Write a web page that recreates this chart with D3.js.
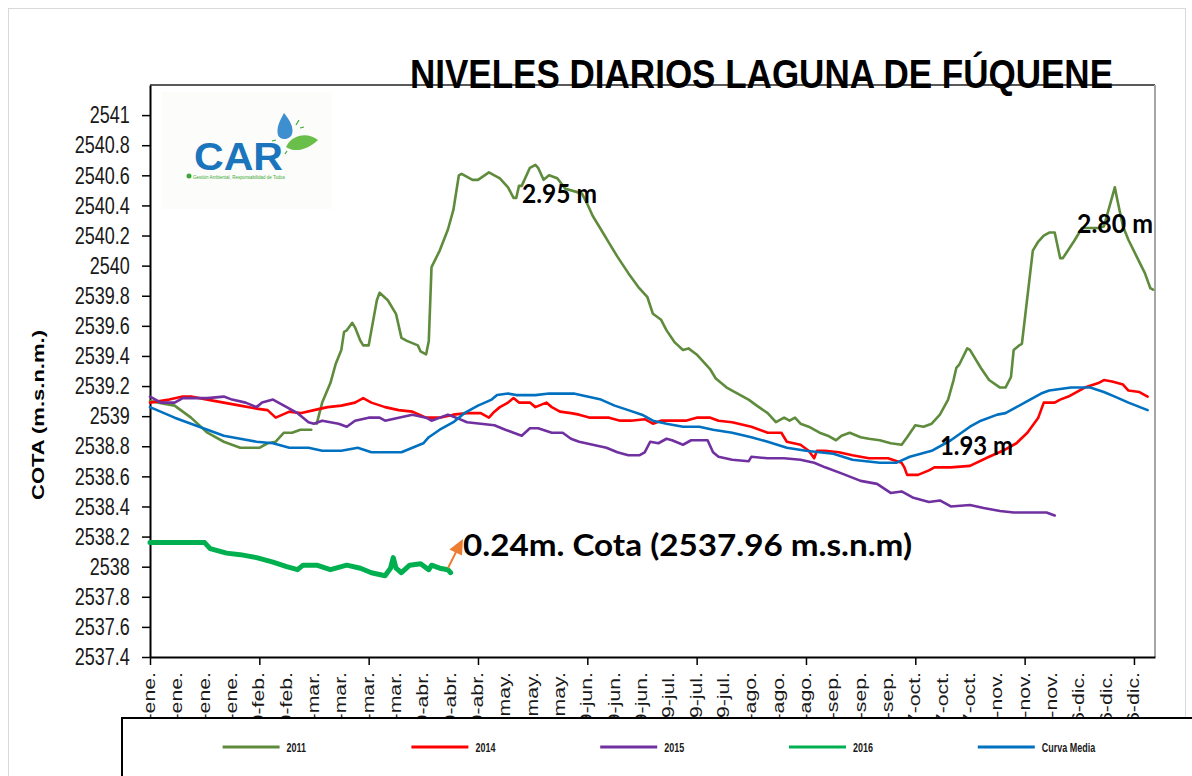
<!DOCTYPE html>
<html>
<head>
<meta charset="utf-8">
<script src="https://cdn.jsdelivr.net/npm/d3@7"></script>
<style>
	body { margin: 0; background: #fff; }
	svg { font-family: "Liberation Sans", Arial, sans-serif; }
</style>
</head>
<body>
<div id="graph"></div>
<script>
/* ====== DATOS (día del año, cota m.s.n.m.) ====== */

var dias2011 = [0,9,15,21,27,33,40,43,46,49,52,55,59,60,
	61,63,66,68,70,71,72,74,75,77, 78,80,81,83,84,87,90,92,94,98,
	99,101,102,103,106,109,111,113,114,118, 120,124,128,131,133,134,135,136,139,141,
	142,144,146,149,152,156,158,160,162,165, 168,171,175,179,182,184,187,189,192,195,
	197,200,202,205,207,211,215,219,222,226, 229,232,234,236,238,241,245,248,251,253,
	256,260,263,267,271,275,277,280,283,286, 289,292,294,295,296,299,300,304,307,311,
	313,315,316,318,319,323,325,327,329,331, 333,334,338,341,347,349,353,354,356,358,
	361,364,366,367];
var cota2011 = [2539.10,2539.07,2538.99,2538.89,2538.83,2538.79,2538.79,2538.82,2538.83,2538.89,2538.89,2538.91,2538.91,null,
	2538.95,2539.09,2539.22,2539.35,2539.44,2539.56,2539.57,2539.62,2539.59,2539.50,
	2539.47,2539.47,2539.57,2539.77,2539.82,2539.77,2539.68,2539.52,2539.50,2539.47,
	2539.43,2539.41,2539.50,2539.99,2540.10,2540.24,2540.37,2540.60,2540.61,2540.57,
	2540.57,2540.62,2540.58,2540.52,2540.45,2540.45,2540.53,2540.53,2540.65,2540.67,
	2540.65,2540.57,2540.60,2540.58,2540.51,2540.49,2540.48,2540.41,2540.33,2540.24,
	2540.15,2540.06,2539.95,2539.85,2539.79,2539.68,2539.64,2539.57,2539.49,2539.44,
	2539.45,2539.41,2539.37,2539.31,2539.25,2539.19,2539.15,2539.11,2539.07,2539.02,
	2538.96,2538.99,2538.97,2538.99,2538.95,2538.93,2538.89,2538.87,2538.84,2538.87,
	2538.89,2538.86,2538.85,2538.84,2538.82,2538.81,2538.86,2538.94,2538.93,2538.95,
	2539.01,2539.11,2539.24,2539.32,2539.34,2539.45,2539.44,2539.32,2539.24,2539.19,
	2539.19,2539.26,2539.44,2539.47,2539.48,2540.10,2540.16,2540.20,2540.22,2540.22,
	2540.05,2540.05,2540.16,2540.25,2540.25,2540.26,2540.52,2540.43,2540.26,2540.17,
	2540.06,2539.95,2539.85,2539.84];

var dias2014 = [0,7,12,15,21,27,33,39,43,46, 51,55,60,65,70,75,78,81,86,91,
	96,101,106,111,116,121,124,126,128,131, 133,135,139,141,145,147,150,154,157,161,
	165,168,172,176,181,184,187,191,196,200, 205,208,213,220,226,231,233,238,241,243,
	244,247,252,257,263,270,275,276,277,281, 285,287,293,300,307,312,317,321,325,327,
	331,333,336,340,342,347,349,352,356,358, 362,365];
var cota2014 = [2539.09,2539.11,2539.13,2539.13,2539.11,2539.09,2539.07,2539.05,2539.04,2538.99,
	2539.03,2539.02,2539.04,2539.06,2539.07,2539.09,2539.12,2539.09,2539.06,2539.04,
	2539.03,2538.99,2538.99,2539.01,2539.02,2539.02,2538.99,2539.03,2539.06,2539.09,
	2539.12,2539.09,2539.09,2539.06,2539.09,2539.06,2539.03,2539.02,2539.01,2538.99,
	2538.99,2538.99,2538.97,2538.97,2538.98,2538.95,2538.97,2538.97,2538.97,2538.99,
	2538.99,2538.97,2538.96,2538.93,2538.89,2538.89,2538.83,2538.81,2538.77,2538.72,
	2538.77,2538.77,2538.76,2538.74,2538.72,2538.72,2538.69,2538.66,2538.61,2538.61,
	2538.64,2538.66,2538.66,2538.67,2538.73,2538.77,2538.82,2538.89,2538.99,2539.09,
	2539.09,2539.11,2539.13,2539.17,2539.19,2539.22,2539.24,2539.23,2539.21,2539.17,
	2539.16,2539.13];

var dias2015 = [0,4,9,12,21,27,30,35,39,41, 45,50,54,58,60,63,69,72,75,80,
	84,86,91,96,101,103,109,112,116,121, 126,130,133,136,139,142,147,151,154,157,
	162,167,171,175,179,181,183,186,189,191, 195,198,204,206,208,213,219,220,226,232,
	238,243,247,253,260,266,271,275,279,285, 289,293,300,305,311,316,322,328,331];
var cota2015 = [2539.13,2539.09,2539.09,2539.12,2539.12,2539.13,2539.11,2539.09,2539.06,2539.09,
	2539.11,2539.06,2539.02,2538.96,2538.95,2538.97,2538.95,2538.93,2538.97,2538.99,
	2538.99,2538.97,2538.99,2539.01,2538.99,2538.97,2539.01,2538.99,2538.96,2538.95,
	2538.94,2538.91,2538.89,2538.87,2538.92,2538.92,2538.89,2538.89,2538.85,2538.83,
	2538.81,2538.79,2538.76,2538.74,2538.74,2538.76,2538.83,2538.82,2538.85,2538.84,
	2538.81,2538.84,2538.84,2538.76,2538.73,2538.71,2538.70,2538.73,2538.72,2538.72,
	2538.71,2538.69,2538.66,2538.62,2538.57,2538.55,2538.49,2538.50,2538.46,2538.43,
	2538.44,2538.40,2538.41,2538.39,2538.37,2538.36,2538.36,2538.36,2538.34];

var dias2016 = [0,9,15,20,22,28,33,39,45,50, 54,56,61,66,72,77,81,86,88,89,
	90,92,95,99,102,103,106,109,110];
var cota2016 = [2538.16,2538.16,2538.16,2538.16,2538.12,2538.09,2538.08,2538.06,2538.03,2538.00,
	2537.98,2538.01,2538.01,2537.98,2538.01,2537.99,2537.96,2537.94,2537.99,2538.06,
	2537.99,2537.96,2538.01,2538.02,2537.98,2538.01,2537.99,2537.98,2537.96];

var diasMedia = [0,9,15,21,27,33,39,45,51,58, 63,70,76,81,87,92,96,100,102,106,
	111,115,120,125,127,131,134,141,146,151, 155,160,165,170,175,180,184,189,195,201,
	206,213,220,226,233,240,250,257,267,273, 278,286,293,300,304,310,313,317,322,326,
	329,337,344,349,353,358,365];
var cotaMedia = [2539.06,2538.99,2538.95,2538.91,2538.87,2538.85,2538.83,2538.82,2538.79,2538.79,
	2538.77,2538.77,2538.79,2538.76,2538.76,2538.76,2538.79,2538.82,2538.86,2538.91,
	2538.96,2539.02,2539.07,2539.11,2539.14,2539.15,2539.14,2539.14,2539.15,2539.15,
	2539.15,2539.13,2539.11,2539.07,2539.04,2539.01,2538.97,2538.95,2538.93,2538.93,
	2538.91,2538.89,2538.86,2538.83,2538.79,2538.77,2538.75,2538.71,2538.69,2538.69,
	2538.73,2538.77,2538.84,2538.93,2538.97,2539.01,2539.02,2539.06,2539.11,2539.15,
	2539.17,2539.19,2539.19,2539.16,2539.13,2539.09,2539.04];

var serieNombres = ["2011", "2014", "2015", "2016", "Curva Media"];
var serieColores = ["#5e8b3c", "#ff0000", "#7030a0", "#00b050", "#0070c0"];

var yTicks = [2537.4,2537.6,2537.8,2538,2538.2,2538.4,2538.6,2538.8,2539,2539.2,
	2539.4,2539.6,2539.8,2540,2540.2,2540.4,2540.6,2540.8,2541];
var xMayores = [0,40,80,120,160,200,240,280,320,360];
var xLabelDias = [0,10,20,30,40,50,60,70,80,90,100,110,120,130,140,150,160,170,180,190,
	200,210,220,230,240,250,260,270,280,290,300,310,320,330,340,350,360];
var xLabels = ["1-ene.","11-ene.","21-ene.","31-ene.","10-feb.","20-feb.","1-mar.","11-mar.","21-mar.","31-mar.",
	"10-abr.","20-abr.","30-abr.","10-may.","20-may.","30-may.","9-jun.","19-jun.","29-jun.","9-jul.",
	"19-jul.","29-jul.","8-ago.","18-ago.","28-ago.","7-sep.","17-sep.","27-sep.","7-oct.","17-oct.",
	"27-oct.","6-nov.","16-nov.","26-nov.","6-dic.","16-dic.","26-dic."];

/* ====== SVG ====== */
var SVGwidth = 1192,
	SVGheight = 776,
	margin = {top: 85, right: 37, bottom: 119, left: 150},
	width = SVGwidth - margin.left - margin.right,
	height = SVGheight - margin.top - margin.bottom;

var svg = d3.select('#graph').append('svg')
	.attr('width', SVGwidth)
	.attr('height', SVGheight);

svg.append('rect')
	.attr('x', 8.5).attr('y', 8.5).attr('width', 1177).attr('height', 800)
	.attr('fill', '#fff').attr('stroke', '#d9d9d9');

var g = svg.append('g').attr('transform', 'translate(' + margin.left + ',' + margin.top + ')');

var x = d3.scaleLinear().domain([0, 367.7]).range([0, width]);
var y = d3.scaleLinear().domain([2537.4, 2541.2]).range([height, 0]);

// borde del área de trazado
g.append('line').attr('x1', 0).attr('x2', width).attr('y1', 0).attr('y2', 0)
	.attr('stroke', '#595959').attr('stroke-width', 2);
g.append('line').attr('x1', width).attr('x2', width).attr('y1', 0).attr('y2', height)
	.attr('stroke', '#a6a6a6').attr('stroke-width', 2);

// logo CAR
var logo = svg.append('g');
logo.append('rect').attr('x', 162).attr('y', 92).attr('width', 170).attr('height', 117).attr('fill', '#fcfcfa');
logo.append('text').attr('x', 194).attr('y', 170).attr('font-size', 39).attr('font-weight', 'bold')
	.attr('fill', '#1b75bc').attr('textLength', 89).attr('lengthAdjust', 'spacingAndGlyphs').text('CAR');
logo.append('circle').attr('cx', 189).attr('cy', 176).attr('r', 2.5).attr('fill', '#3aaa35');
logo.append('text').attr('x', 193).attr('y', 178.5).attr('font-size', 4.5).attr('fill', '#3aaa35')
	.attr('textLength', 92).attr('lengthAdjust', 'spacingAndGlyphs').text('Gestión Ambiental, Responsabilidad de Todos');
logo.append('path').attr('d', 'M284,113 C290,120 294,128 292,134 C290,140 280,141 278,135 C276,128 280,120 284,113 Z')
	.attr('fill', '#3d8fd0');
logo.append('path').attr('d', 'M286,147 C292,134 308,132 318,140 C308,150 294,153 286,147 Z')
	.attr('fill', '#6abf4b');
logo.append('path').attr('d', 'M272,141 l4,-1 M287,151 l-2,3 M296,125 l3,-5 M300,128 l4,-1')
	.attr('stroke', '#3aaa35').attr('stroke-width', 1.2);

// eje Y
var yAxis = d3.axisLeft(y)
	.tickValues(yTicks)
	.tickSize(8)
	.tickSizeOuter(0)
	.tickFormat(function(d){ return String(+d.toFixed(1)); });

var yG = g.append('g').call(yAxis);
yG.attr('font-family', null);
yG.select('.domain').attr('stroke', '#000').attr('stroke-width', 2);
yG.selectAll('.tick line').attr('stroke', '#000').attr('stroke-width', 1.5);
yG.selectAll('.tick text')
	.attr('font-size', 24)
	.attr('fill', '#1a1a1a')
	.attr('x', -27)
	.attr('transform', 'scale(0.75,1)');

// eje X
var xAxis = d3.axisBottom(x)
	.tickValues(xMayores)
	.tickSize(8)
	.tickSizeOuter(0)
	.tickFormat('');

var xG = g.append('g').attr('transform', 'translate(0,' + height + ')').call(xAxis);
xG.select('.domain').attr('stroke', '#000').attr('stroke-width', 2);
xG.selectAll('.tick line').attr('stroke', '#000').attr('stroke-width', 1.5);

g.selectAll('text.xlab')
	.data(xLabelDias)
	.enter()
	.append('text')
	.attr('class', 'xlab')
	.attr('transform', function(d){ return 'translate(' + (x(d) + 5) + ',' + (height + 15) + ') rotate(-90) scale(1.33,1)'; })
	.attr('text-anchor', 'end')
	.attr('font-size', 16)
	.attr('fill', '#1a1a1a')
	.text(function(d, i){ return xLabels[i]; });

// series
var line = d3.line()
	.defined(function(d){ return d.v != null; })
	.x(function(d){ return x(d.d); })
	.y(function(d){ return y(d.v); });

function puntos(dias, cotas){
	return dias.map(function(d, i){ return {d: d, v: cotas[i]}; });
}

var series = [
	{data: puntos(dias2011, cota2011), w: 2.6},
	{data: puntos(dias2014, cota2014), w: 2.6},
	{data: puntos(dias2015, cota2015), w: 2.6},
	{data: puntos(dias2016, cota2016), w: 5},
	{data: puntos(diasMedia, cotaMedia), w: 2.6}
];

series.forEach(function(s, i){
	g.append('path')
		.datum(s.data)
		.attr('fill', 'none')
		.attr('stroke', serieColores[i])
		.attr('stroke-width', s.w)
		.attr('stroke-linejoin', 'round')
		.attr('stroke-linecap', 'round')
		.attr('d', line);
});

// textos
function texto(txt, x0, y0, size, len, family){
	return svg.append('text')
		.attr('x', x0).attr('y', y0)
		.attr('font-size', size)
		.attr('font-weight', 'bold')
		.style('font-family', family)
		.attr('fill', '#000')
		.attr('textLength', len)
		.attr('lengthAdjust', 'spacingAndGlyphs')
		.text(txt);
}

texto('NIVELES DIARIOS LAGUNA DE FÚQUENE', 410, 88, 41, 703, '"Liberation Sans", Arial, sans-serif');
texto('2.95 m', 522, 203, 27, 75, 'Lato, "Open Sans", sans-serif');
texto('2.80 m', 1077, 233, 27, 76, 'Lato, "Open Sans", sans-serif');
texto('1.93 m', 940, 455, 27, 73, 'Lato, "Open Sans", sans-serif');
texto('0.24m. Cota (2537.96 m.s.n.m)', 463, 556, 31, 449, 'Lato, "Open Sans", sans-serif');

svg.append('text')
	.attr('transform', 'translate(44,415) rotate(-90)')
	.attr('text-anchor', 'middle')
	.attr('font-size', 16)
	.attr('font-weight', 'bold')
	.attr('textLength', 170)
	.attr('lengthAdjust', 'spacingAndGlyphs')
	.text('COTA (m.s.n.m.)');

// flecha naranja
svg.append('line').attr('x1', 448).attr('y1', 568).attr('x2', 456).attr('y2', 552)
	.attr('stroke', '#ed7d31').attr('stroke-width', 2);
svg.append('path').attr('d', 'M463,539 L449.4,549.4 L462,555.6 Z').attr('fill', '#ed7d31');

// leyenda
svg.append('rect')
	.attr('x', 122).attr('y', 718).attr('width', 1100).attr('height', 100)
	.attr('fill', '#fff').attr('stroke', '#000').attr('stroke-width', 2);

var leyenda = svg.selectAll('g.ley')
	.data(serieNombres)
	.enter()
	.append('g')
	.attr('class', 'ley')
	.attr('transform', function(d, i){ return 'translate(' + (222.6 + i * 188.8) + ',747)'; });

leyenda.append('line')
	.attr('x1', 0).attr('x2', 57).attr('y1', 0).attr('y2', 0)
	.attr('stroke', function(d, i){ return serieColores[i]; })
	.attr('stroke-width', 3);

leyenda.append('text')
	.attr('transform', 'translate(64,4.5) scale(0.75,1)')
	.attr('font-size', 12)
	.attr('font-weight', 'bold')
	.attr('fill', '#1a1a1a')
	.text(function(d){ return d; });
</script>
</body>
</html>
